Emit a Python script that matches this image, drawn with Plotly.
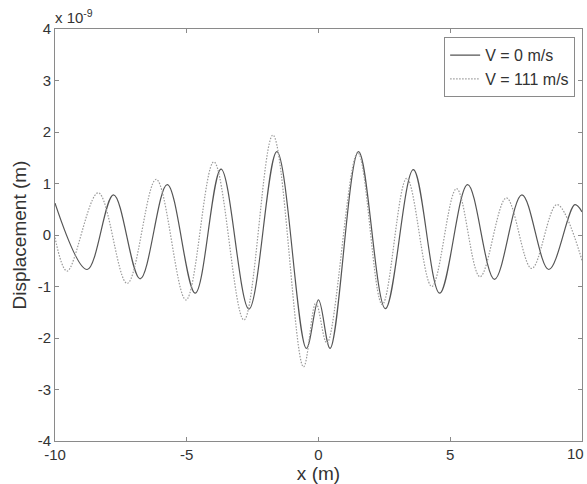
import plotly.graph_objects as go

# Extrema (x in m, displacement in units of 1e-9 m)
x_v0 = [-10.0, -8.78, -7.78, -6.77, -5.74, -4.68, -3.70, -2.64, -1.58, -0.46, 0.0,
        0.44, 1.52, 2.54, 3.60, 4.60, 5.66, 6.68, 7.72, 8.74, 9.73, 10.0]
y_v0 = [0.62, -0.67, 0.78, -0.85, 0.98, -1.13, 1.28, -1.44, 1.62, -2.2, -1.26,
        -2.2, 1.62, -1.43, 1.27, -1.13, 0.98, -0.86, 0.78, -0.67, 0.59, 0.45]

x_v111 = [-10.0, -9.54, -8.36, -7.26, -6.16, -5.03, -3.97, -2.83, -1.73, -0.57, -0.1,
          0.32, 1.49, 2.42, 3.35, 4.30, 5.24, 6.13, 7.13, 8.09, 9.05, 10.0]
y_v111 = [-0.05, -0.7, 0.82, -0.94, 1.08, -1.26, 1.42, -1.65, 1.94, -2.56, -1.32,
          -2.1, 1.6, -1.35, 1.1, -1.0, 0.9, -0.81, 0.72, -0.65, 0.59, -0.49]

x_ticks = [-10, -5, 0, 5, 10]
y_ticks = [-4, -3, -2, -1, 0, 1, 2, 3, 4]

FONT = "Liberation Sans, Arial, sans-serif"
AXIS_COLOR = "#8a8a8a"
TEXT_COLOR = "#333333"

fig = go.Figure()
fig.add_trace(go.Scatter(
    x=x_v0, y=y_v0, mode="lines", name="V = 0 m/s",
    line=dict(color="#555555", width=1.2, shape="spline", smoothing=1.0),
))
fig.add_trace(go.Scatter(
    x=x_v111, y=y_v111, mode="lines", name="V = 111 m/s",
    line=dict(color="#9a9a9a", width=1.2, dash="1.5px,1.5px", shape="spline", smoothing=1.0),
))

axis_common = dict(
    showgrid=False, zeroline=False, showline=True, linecolor=AXIS_COLOR, linewidth=1,
    mirror="ticks", ticks="inside", ticklen=4, tickcolor=AXIS_COLOR,
    tickfont=dict(family=FONT, size=15, color=TEXT_COLOR),
)

# The last x tick (10) lies on the right border; its label is drawn as an annotation kept inside the page
axis_x_ticks = x_ticks[:-1]

fig.update_layout(
    width=587, height=484,
    margin=dict(l=55, r=5, t=29, b=43),
    paper_bgcolor="white", plot_bgcolor="white",
    font=dict(family=FONT, size=15, color=TEXT_COLOR),
    xaxis=dict(range=[-10, 10], tickvals=axis_x_ticks, ticktext=[str(v) for v in axis_x_ticks],
               title=dict(text="x (m)", font=dict(family=FONT, size=19, color=TEXT_COLOR), standoff=2),
               **axis_common),
    yaxis=dict(range=[-4, 4], tickvals=y_ticks, ticktext=[str(v) for v in y_ticks],
               title=dict(text="Displacement (m)", font=dict(family=FONT, size=19, color=TEXT_COLOR), standoff=6),
               **axis_common),
    legend=dict(x=0.987, y=0.98, xanchor="right", yanchor="top",
                bordercolor=AXIS_COLOR, borderwidth=1, bgcolor="white",
                font=dict(family=FONT, size=16, color=TEXT_COLOR),
                tracegroupgap=0, itemwidth=30),
    showlegend=True,
    annotations=[
        dict(x=0, y=1, xref="paper", yref="paper", xanchor="left", yanchor="bottom",
             text="x 10<sup>-9</sup>", showarrow=False, yshift=1, xshift=-2,
             font=dict(family=FONT, size=15, color=TEXT_COLOR)),
        dict(x=1, y=0, xref="paper", yref="paper", xanchor="right", yanchor="top",
             text=str(x_ticks[-1]), showarrow=False, yshift=-2, xshift=4,
             font=dict(family=FONT, size=15, color=TEXT_COLOR)),
    ],
)

fig.write_html("out.html")
